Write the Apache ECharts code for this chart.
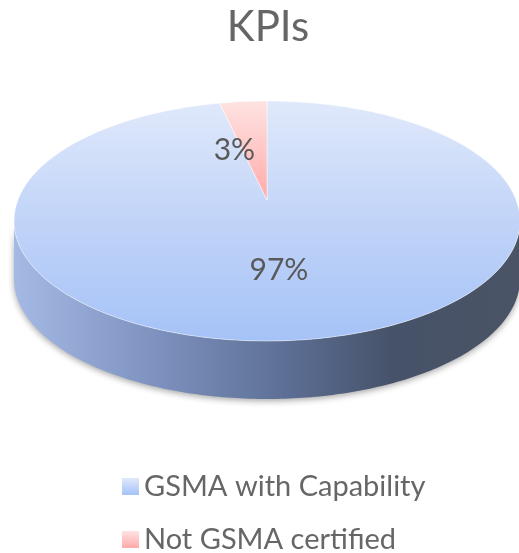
<!DOCTYPE html>
<html>
<head>
<meta charset="utf-8">
<style>
  html, body { margin: 0; padding: 0; background: #fff; }
  #main { width: 519px; height: 553px; }
</style>
<script src="https://cdn.jsdelivr.net/npm/echarts@6/dist/echarts.min.js"></script>
</head>
<body>
<div id="main"></div>
<script>
// chart data
var categories = ['GSMA with Capability', 'Not GSMA certified']
var values = [97, 3]
var pctLabels = ['97%', '3%']

var chart = echarts.init(document.getElementById('main'))

// fake 3d pie geometry (Excel style tilted disc)
var cx = 267
var cy = 221
var rx = 253
var ry = 120
var apexX = 267
var apexY = 200
var depth = 58

var total = values.reduce(function (a, b) { return a + b }, 0)

function pt(deg, dy) {
  var r = deg * Math.PI / 180
  return [cx + rx * Math.sin(r), cy - ry * Math.cos(r) + (dy || 0)]
}

function grad(x0, y0, x1, y1, stops) {
  return new echarts.graphic.LinearGradient(x0, y0, x1, y1, stops, true)
}

var topFill = [
  grad(0, cy - ry, 0, cy + ry, [
    { offset: 0, color: '#e0e9fb' },
    { offset: 0.45, color: '#c4d6f8' },
    { offset: 1, color: '#a5c2f7' }
  ]),
  grad(0, cy - ry, 0, cy + ry, [
    { offset: 0, color: '#fde3e2' },
    { offset: 0.42, color: '#ffaaa8' },
    { offset: 1, color: '#ff9391' }
  ])
]
var sideFill = [
  grad(cx - rx, 0, cx + rx, 0, [
    { offset: 0, color: '#a4bae5' },
    { offset: 0.3, color: '#7a8fbb' },
    { offset: 0.55, color: '#5b6d92' },
    { offset: 0.75, color: '#465268' },
    { offset: 1, color: '#4a5466' }
  ]),
  grad(cx - rx, 0, cx + rx, 0, [
    { offset: 0, color: '#f0a0a0' },
    { offset: 1, color: '#8a4d4d' }
  ])
]
var legendFill = [
  new echarts.graphic.LinearGradient(0, 0, 0, 1, [
    { offset: 0, color: '#e0e9fb' },
    { offset: 1, color: '#a5c2f7' }
  ]),
  new echarts.graphic.LinearGradient(0, 0, 0, 1, [
    { offset: 0, color: '#fde3e2' },
    { offset: 1, color: '#ffaaa8' }
  ])
]

function renderSlice(params, api) {
  var i = params.seriesIndex
  var before = 0
  for (var k = 0; k < i; k++) before += values[k]
  var a0 = before / total * 360
  var a1 = (before + api.value(0)) / total * 360
  var children = []

  // visible front side (between 90 and 270 degrees)
  var s0 = Math.max(a0, 90)
  var s1 = Math.min(a1, 270)
  if (s1 > s0) {
    var upper = []
    var lower = []
    for (var d = s0; d <= s1 + 0.001; d += 1) {
      upper.push(pt(Math.min(d, s1)))
      lower.unshift(pt(Math.min(d, s1), depth))
    }
    children.push({
      type: 'polygon',
      z2: 1,
      shape: { points: upper.concat(lower) },
      style: {
        fill: sideFill[i],
        shadowBlur: 6,
        shadowOffsetY: 2,
        shadowColor: 'rgba(0,0,0,0.35)'
      }
    })
  }

  // top face
  var pts = [[apexX, apexY]]
  for (var d2 = a0; d2 <= a1 + 0.001; d2 += 1) pts.push(pt(Math.min(d2, a1)))
  pts.push(pt(a1))
  children.push({
    type: 'polygon',
    z2: 5,
    shape: { points: pts },
    style: { fill: topFill[i], stroke: 'rgba(255,255,255,0.6)', lineWidth: 0.8 }
  })

  // label
  var mid = (a0 + a1) / 2 * Math.PI / 180
  var down = Math.cos(mid) < 0 ? (cy + ry - apexY) : (apexY - cy + ry)
  var lx = apexX + 0.5 * rx * Math.sin(mid)
  var ly = apexY - 0.5 * down * Math.cos(mid)
  var small = api.value(0) / total < 0.05
  children.push({
    type: 'text',
    z2: 10,
    x: lx,
    y: ly,
    style: {
      text: pctLabels[i],
      fill: '#595959',
      font: '30px Lato',
      align: small ? (Math.sin(mid) < 0 ? 'right' : 'left') : 'center',
      verticalAlign: 'middle'
    }
  })

  return { type: 'group', children: children }
}

// one legend block per row so they stack like the Excel legend
var legendTops = [472, 525]
var legends = categories.map(function (name, i) {
  return {
    orient: 'vertical',
    left: 122,
    top: legendTops[i],
    padding: 0,
    itemWidth: 17,
    itemHeight: 17,
    icon: 'rect',
    data: [name],
    textStyle: {
      fontFamily: 'Lato',
      fontSize: 29,
      lineHeight: 26,
      color: '#666666'
    }
  }
})

chart.setOption({
  animation: false,
  title: {
    text: 'KPIs',
    left: 268,
    top: 6,
    padding: 0,
    textAlign: 'center',
    textStyle: {
      fontFamily: 'Lato',
      fontSize: 42,
      fontWeight: 'normal',
      color: '#666666'
    }
  },
  legend: legends,
  series: categories.map(function (name, i) {
    return {
      type: 'custom',
      name: name,
      coordinateSystem: 'none',
      itemStyle: { color: legendFill[i] },
      renderItem: renderSlice,
      data: [[values[i]]]
    }
  })
})
</script>
</body>
</html>
